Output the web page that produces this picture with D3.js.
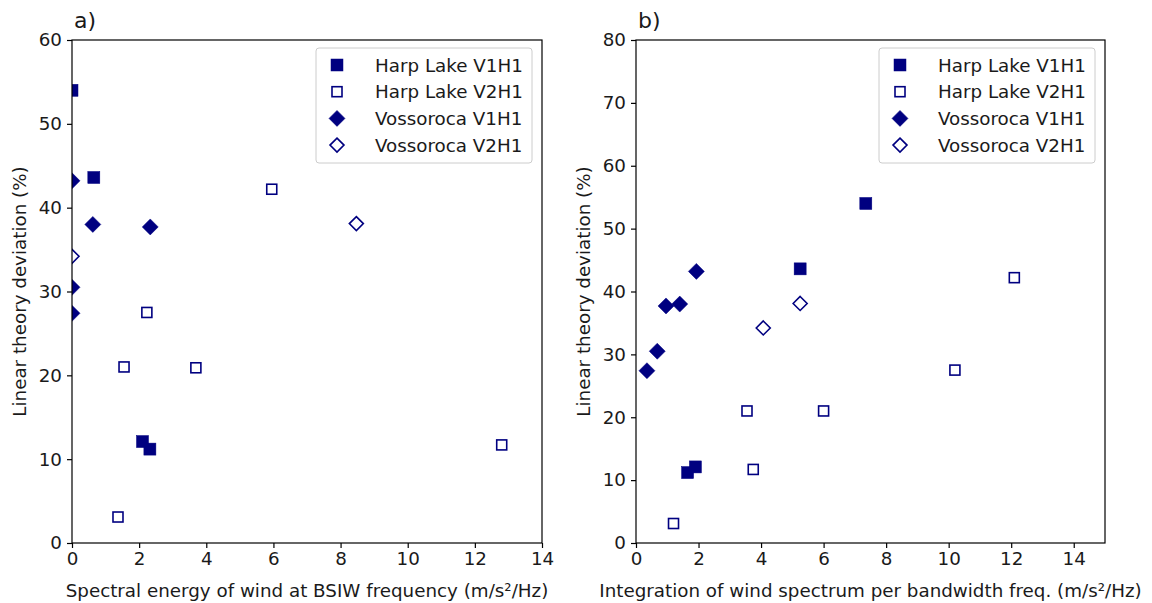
<!DOCTYPE html>
<html><head><meta charset="utf-8">
<script src="https://cdn.jsdelivr.net/npm/d3@7"></script>
<style>body{margin:0;background:#fff}svg{display:block}text{font-family:"DejaVu Sans",sans-serif;fill:#1a1a1a}</style>
</head><body><div id="c"></div>
<script>
// Panel a data: x = spectral energy, y = linear theory deviation
const seriesNames = ["Harp Lake V1H1","Harp Lake V2H1","Vossoroca V1H1","Vossoroca V2H1"];
const aHarpV1 = [[0,54],[0.65,43.6],[2.1,12.1],[2.32,11.2]];
const aHarpV2 = [[5.95,42.2],[2.23,27.5],[1.55,21],[3.69,20.9],[1.37,3.1],[12.8,11.7]];
const aVossV1 = [[0,43.2],[0.62,38],[2.33,37.7],[0,30.5],[0,27.4]];
const aVossV2 = [[0,34.2],[8.47,38.1]];
// Panel b data
const bHarpV1 = [[7.35,54],[5.25,43.6],[1.65,11.2],[1.9,12.1]];
const bHarpV2 = [[12.1,42.2],[10.2,27.5],[3.55,21],[6.0,21],[3.75,11.7],[1.2,3.1]];
const bVossV1 = [[0.35,27.4],[0.68,30.5],[0.96,37.7],[1.4,38],[1.93,43.2]];
const bVossV2 = [[4.07,34.2],[5.25,38.1]];
const xTicksA = [0,2,4,6,8,10,12,14];
const yTicksA = [0,10,20,30,40,50,60];
const xTicksB = [0,2,4,6,8,10,12,14];
const yTicksB = [0,10,20,30,40,50,60,70,80];

const W=1152,H=603, color="#000080", FS=18.3;
const svg=d3.select("#c").append("svg").attr("width",W).attr("height",H);
const markerStyles=[
  {shape:"square",fill:true},{shape:"square",fill:false},
  {shape:"diamond",fill:true},{shape:"diamond",fill:false}];

function drawMarker(g,x,y,st){
  let el;
  if(st.shape==="square"){
    const s=st.fill?12:10;
    el=g.append("rect").attr("x",x-s/2).attr("y",y-s/2).attr("width",s).attr("height",s);
  } else {
    const r=st.fill?8:7;
    el=g.append("path").attr("d",`M${x},${y-r}L${x+r},${y}L${x},${y+r}L${x-r},${y}Z`);
  }
  el.attr("fill",st.fill?color:"#fff").attr("stroke",color).attr("stroke-width",st.fill?0.5:1.6);
}

function panel(opt){
  const {left,right,top,bottom,xDom,yDom,xt,yt,data,xlabel,tag,id}=opt;
  const x=d3.scaleLinear().domain(xDom).range([left,right]);
  const y=d3.scaleLinear().domain(yDom).range([bottom,top]);
  const g=svg.append("g");
  g.append("clipPath").attr("id",id).append("rect").attr("x",left).attr("y",top).attr("width",right-left).attr("height",bottom-top);
  const xa=g.append("g").attr("transform",`translate(0,${bottom})`).call(d3.axisBottom(x).tickValues(xt).tickSize(5).tickPadding(4).tickFormat(d3.format("d")));
  const ya=g.append("g").attr("transform",`translate(${left},0)`).call(d3.axisLeft(y).tickValues(yt).tickSize(5).tickPadding(5).tickFormat(d3.format("d")));
  [xa,ya].forEach(a=>{a.select(".domain").remove();a.selectAll("line").attr("stroke","#000").attr("stroke-width",1.2);
    a.selectAll("text").attr("font-size",FS).attr("fill","#1a1a1a").attr("font-family","DejaVu Sans");});
  const pg=g.append("g").attr("clip-path",`url(#${id})`);
  data.forEach((ser,i)=>ser.forEach(p=>drawMarker(pg,x(p[0]),y(p[1]),markerStyles[i])));
  g.append("rect").attr("x",left).attr("y",top).attr("width",right-left).attr("height",bottom-top).attr("fill","none").attr("stroke","#000").attr("stroke-width",1.2);
  g.append("text").attr("x",(left+right)/2).attr("y",bottom+54).attr("text-anchor","middle").attr("font-size",FS).text(xlabel);
  g.append("text").attr("transform",`translate(${left-46},${(top+bottom)/2}) rotate(-90)`).attr("text-anchor","middle").attr("font-size",FS).text("Linear theory deviation (%)");
  g.append("text").attr("x",left+2).attr("y",top-12).attr("font-size",22).text(tag);
  // legend
  const lx=right-226, ly=top+8, lw=216, lh=115;
  const lg=g.append("g");
  lg.append("rect").attr("x",lx).attr("y",ly).attr("width",lw).attr("height",lh).attr("rx",3).attr("fill","#fff").attr("fill-opacity",0.8).attr("stroke","#cccccc").attr("stroke-width",1);
  seriesNames.forEach((n,i)=>{
    const yy=ly+17+i*26.7;
    const st=Object.assign({},markerStyles[i]);
    drawMarker(lg,lx+21,yy,st);
    lg.append("text").attr("x",lx+59).attr("y",yy).attr("dy","0.36em").attr("font-size",FS).text(n);
  });
}
panel({id:"ca",left:72,right:542,top:40,bottom:543,xDom:[0,14],yDom:[0,60],xt:xTicksA,yt:yTicksA,
  data:[aHarpV1,aHarpV2,aVossV1,aVossV2],xlabel:"Spectral energy of wind at BSIW frequency (m/s²/Hz)",tag:"a)"});
panel({id:"cb",left:636,right:1105,top:40,bottom:543,xDom:[0,15],yDom:[0,80],xt:xTicksB,yt:yTicksB,
  data:[bHarpV1,bHarpV2,bVossV1,bVossV2],xlabel:"Integration of wind spectrum per bandwidth freq. (m/s²/Hz)",tag:"b)"});
</script></body></html>
